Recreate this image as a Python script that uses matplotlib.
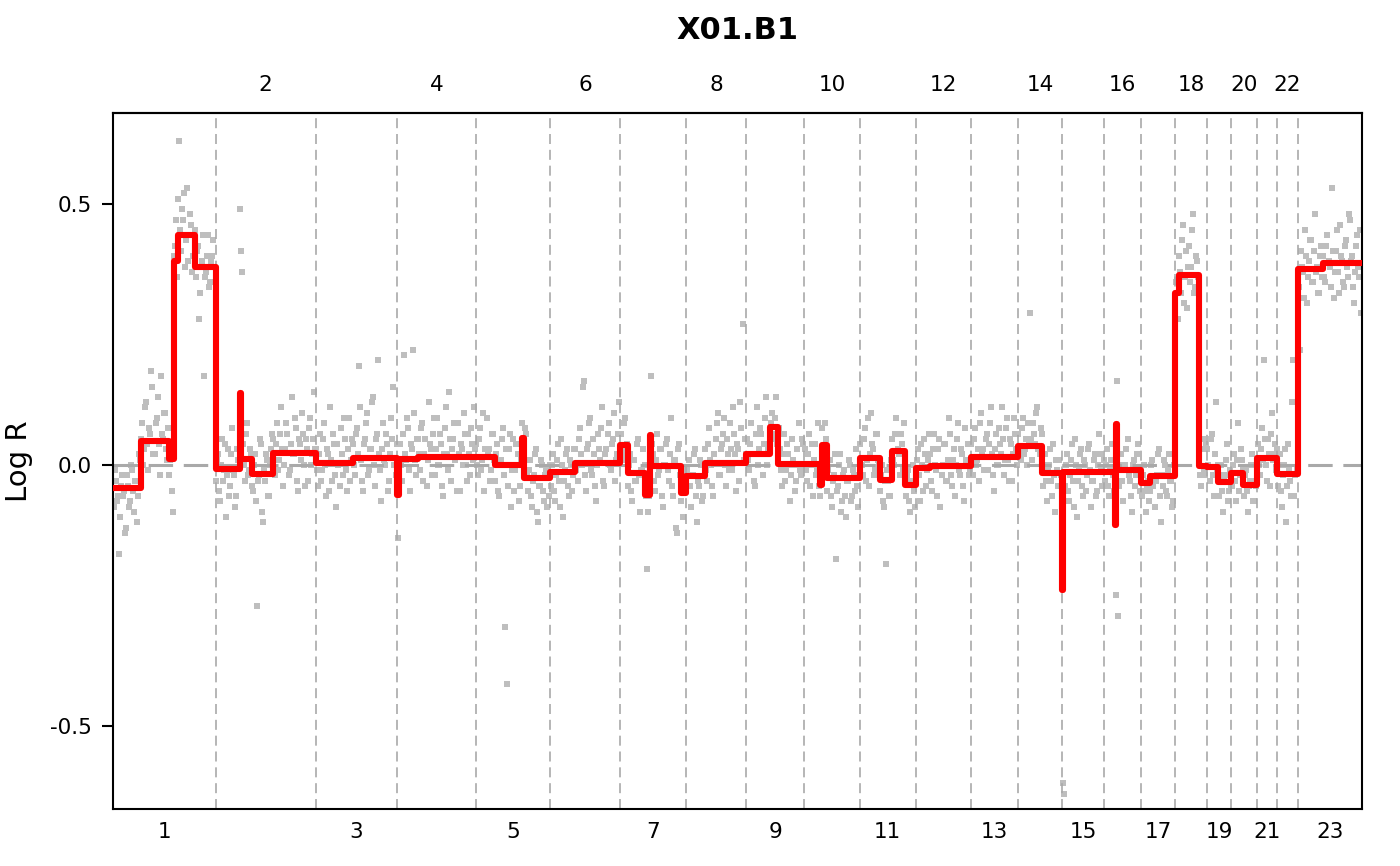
import numpy as np
import matplotlib
matplotlib.use("Agg")
import matplotlib.pyplot as plt

# chromosome sizes in Mb (hg19), 23 = X
chrom_names = [str(i) for i in range(1, 24)]
chrom_len = [249.25, 243.20, 198.02, 191.15, 180.92, 171.12, 159.14, 146.36,
             141.21, 135.53, 135.01, 133.85, 115.17, 107.35, 102.53, 90.35,
             81.20, 78.08, 59.13, 63.03, 48.13, 51.30, 155.27]

# segmentation: chromosome, start / end (Mb within chromosome), mean log R
seg_chrom = [1, 1, 1, 1, 1, 1,
             2, 2, 2, 2, 2,
             3, 3,
             4, 4, 4,
             5, 5, 5, 5,
             6, 6,
             7, 7, 7, 7, 7, 7,
             8, 8,
             9, 9, 9,
             10, 10, 10, 10,
             11, 11, 11, 11,
             12, 12,
             13,
             14, 14,
             15, 15,
             16, 16, 16, 16,
             17, 17,
             18, 18, 18,
             19, 19,
             20, 20,
             21,
             22,
             23, 23]
seg_start = [0, 68, 136, 148, 158, 199,
             0, 59.5, 63, 88.6, 139.7,
             0, 91,
             0, 6, 51,
             0, 47, 113, 118,
             0, 60.6,
             0, 18, 59.6, 71.8, 75, 146,
             0, 46.3,
             0, 58, 77.4,
             0, 38, 43, 55,
             0, 48.6, 77.8, 109.4,
             0, 35.2,
             0,
             0, 58.4,
             0, 2,
             0, 27, 29, 31,
             0, 20.7,
             0, 10, 58.6,
             0, 26.8,
             0, 28.4,
             0,
             0,
             0, 60.5]
seg_end = [68, 136, 148, 158, 199, 249.25,
           59.5, 63, 88.6, 139.7, 243.20,
           91, 198.02,
           6, 51, 191.15,
           47, 113, 118, 180.92,
           60.6, 171.12,
           18, 59.6, 71.8, 75, 146, 159.14,
           46.3, 146.36,
           58, 77.4, 141.21,
           38, 43, 55, 135.53,
           48.6, 77.8, 109.4, 135.01,
           35.2, 133.85,
           115.17,
           58.4, 107.35,
           2, 102.53,
           27, 29, 31, 90.35,
           20.7, 81.20,
           10, 58.6, 78.08,
           26.8, 59.13,
           28.4, 63.03,
           48.13,
           51.30,
           60.5, 155.27]
seg_mean = [-0.045, 0.046, 0.012, 0.39, 0.44, 0.38,
            -0.008, 0.138, 0.011, -0.017, 0.022,
            0.003, 0.014,
            -0.057, 0.011, 0.016,
            0.016, 0.0, 0.052, -0.025,
            -0.013, 0.004,
            0.038, -0.015, -0.057, 0.057, -0.002, -0.053,
            -0.022, 0.004,
            0.021, 0.073, 0.002,
            0.001, -0.038, 0.038, -0.025,
            0.013, -0.029, 0.027, -0.038,
            -0.006, -0.002,
            0.016,
            0.036, -0.015,
            -0.24, -0.013,
            -0.013, -0.115, 0.078, -0.01,
            -0.034, -0.022,
            0.33, 0.364, -0.003,
            -0.004, -0.032,
            -0.016, -0.038,
            0.013,
            -0.017,
            0.376, 0.387]

# probe log R values along each chromosome
chr1_logr = [-0.08, -0.01, -0.03, -0.07, -0.06, -0.17, -0.10, -0.04, -0.02, -0.06,
             -0.05, -0.13, -0.12, -0.02, -0.04, -0.08, -0.07, 0.00, -0.01, -0.05,
             -0.09, -0.03, -0.03, -0.11, -0.06, 0.02, 0.01, 0.05,
             0.08, 0.00, 0.03, 0.11, 0.12, 0.04, -0.01, 0.07, 0.06, 0.18,
             0.15, 0.02, 0.02, 0.08, 0.09, 0.13, 0.04, -0.02, 0.17, 0.06,
             0.05, 0.10, 0.10, 0.03, 0.01, 0.07,
             -0.02, 0.01, 0.03, -0.05, -0.09, 0.40,
             0.42, 0.47, 0.36, 0.51,
             0.62, 0.45, 0.41, 0.49, 0.47, 0.52, 0.38, 0.43, 0.53, 0.39,
             0.44, 0.48, 0.46, 0.37, 0.40, 0.45,
             0.36, 0.41, 0.42, 0.28, 0.33, 0.38, 0.39, 0.44, 0.17, 0.36,
             0.37, 0.40, 0.44, 0.34, 0.35, 0.39, 0.40, 0.43, 0.38, 0.35]
chr2_logr = [-0.03, 0.01, 0.02, -0.05, -0.07, 0.00, 0.05, -0.03, -0.01, 0.04,
             -0.10, -0.02, 0.03, -0.06, -0.04, 0.02, 0.07, -0.01, -0.02, -0.08,
             -0.06, 0.03, 0.01, 0.49,
             0.41, 0.37,
             0.04, 0.00, -0.03, 0.06, 0.08, -0.02, -0.01, 0.03, 0.02, -0.04,
             -0.05, 0.00, 0.02, -0.07, -0.27, -0.03, -0.02, 0.05, 0.04, -0.09,
             -0.11, -0.01, -0.03, 0.02, 0.01, -0.06, -0.06, 0.00, 0.03, 0.06,
             0.05, 0.01, -0.02, 0.04, 0.08, -0.01, 0.01, 0.06, 0.11, 0.03,
             -0.04, 0.00, 0.03, 0.08, 0.06, -0.02, -0.01, 0.04, 0.13, 0.02,
             0.02, 0.09, 0.07, -0.03, -0.05, 0.05, 0.04, 0.01, 0.10, 0.06,
             0.00, -0.04, 0.05, 0.03, -0.03, 0.07, 0.09, 0.00, 0.02, 0.05,
             0.14, 0.03]
chr3_logr = [0.03, -0.01, -0.04, 0.02, 0.06, -0.03, -0.01, 0.05, 0.08, 0.00,
             -0.06, 0.03, 0.02, -0.05, 0.11, 0.01, -0.03, 0.06, 0.04, -0.02,
             -0.08, 0.04, 0.00, -0.04, 0.07, 0.02, -0.02, 0.09, 0.05, -0.01,
             -0.05, 0.03, 0.09, -0.03, 0.01, 0.05,
             0.04, 0.00, -0.02, 0.06, 0.07, 0.02, 0.19, 0.11, 0.01, -0.03,
             -0.05, 0.04, 0.05, 0.08, 0.10, -0.02, -0.01, 0.03, 0.03, 0.12,
             0.13, 0.00, -0.04, 0.05, 0.06, 0.20, 0.02, -0.01, -0.07, 0.03,
             0.08, 0.01, 0.00, 0.06, 0.04, -0.05, -0.03, 0.02, 0.09, 0.05,
             0.15, 0.00, -0.02, 0.04]
chr4_logr = [-0.14, -0.04,
             0.04, 0.00, -0.03, 0.06, 0.21, 0.02, 0.01, 0.09, 0.07, -0.01,
             -0.05, 0.04, 0.03, 0.22, 0.10, 0.01, -0.02, 0.05,
             0.05, 0.02, -0.01, 0.07, 0.08, -0.03, 0.02, 0.05, -0.04, 0.01,
             0.12, 0.04, 0.03, -0.02, 0.06, 0.09, -0.02, 0.03, 0.09, 0.00,
             0.00, 0.06, 0.04, -0.04, -0.06, 0.02, 0.07, 0.11, 0.02, -0.01,
             0.14, 0.05, -0.03, 0.03, 0.05, 0.08, 0.01, -0.05, 0.08, 0.02,
             -0.05, 0.04, 0.03, 0.00, 0.10, 0.06, 0.00, -0.03, 0.06, 0.02,
             -0.02, 0.07, 0.04, 0.01, 0.11, 0.03]
chr5_logr = [0.04, 0.00, -0.02, 0.05, 0.07, -0.01, 0.01, 0.10, -0.05, 0.03,
             0.09, 0.02, 0.03, -0.03, -0.01, 0.06, 0.06, 0.01,
             -0.03, 0.02, 0.04, -0.05, -0.06, 0.00, 0.01, 0.05, 0.07, -0.02,
             -0.31, 0.03, -0.42, -0.04, 0.03, 0.06, -0.08, -0.01, 0.05, -0.05,
             -0.01, 0.04, 0.02, -0.07, -0.04, 0.01,
             0.08, 0.02, 0.03, 0.07, 0.06, -0.02,
             -0.05, -0.01, 0.01, -0.06, -0.08, -0.03, -0.02, 0.02, 0.03, -0.09,
             -0.11, -0.04, -0.04, 0.01, 0.00, -0.05, -0.07, -0.02, -0.01, -0.08,
             -0.06, 0.00]
chr6_logr = [-0.04, 0.00, 0.02, -0.05, -0.07, -0.02, 0.01, 0.04, -0.03, -0.08,
             0.05, 0.00, -0.10, -0.03, -0.01, 0.02, 0.03, -0.04, -0.06, 0.01,
             0.00, -0.05, -0.02, 0.03,
             0.03, -0.01, -0.03, 0.05, 0.07, 0.02, 0.00, 0.15, 0.16, -0.02,
             -0.05, 0.03, 0.04, 0.08, 0.09, -0.01, -0.02, 0.05, 0.02, -0.04,
             -0.07, 0.00, 0.06, 0.03, 0.01, 0.07, 0.11, -0.03, -0.04, 0.02,
             0.03, 0.06, 0.08, 0.00, -0.01, 0.04, 0.05, 0.10, -0.03, 0.01,
             0.02, 0.06, 0.12, 0.03]
chr7_logr = [0.06, 0.02, 0.01, 0.08, 0.09, 0.03, 0.04,
             -0.04, 0.00, 0.02, -0.05, -0.07, 0.01, 0.01, -0.03, -0.03, 0.04,
             0.05, -0.02, -0.09, -0.01, -0.01, 0.03, 0.00,
             -0.06, -0.20, -0.09, -0.06, -0.03,
             0.17,
             0.04, 0.02, -0.03, -0.05, 0.01, 0.06, -0.02, -0.01, 0.03, 0.03,
             -0.06, -0.08, 0.00, 0.00, 0.04, 0.05, -0.01, -0.03, 0.02, 0.09,
             -0.04, -0.06, 0.01, 0.01, -0.12, -0.13, 0.03, 0.04, -0.02,
             -0.07, -0.03, -0.10, -0.05, -0.02]
chr8_logr = [-0.05, -0.01, 0.01, -0.04, -0.08, -0.02, -0.02, 0.02, 0.03, -0.06,
             -0.11, -0.03, -0.04, 0.01, 0.00, -0.07, -0.06, 0.00,
             0.03, -0.01, -0.03, 0.04, 0.07, 0.01, 0.00, -0.04, -0.06, 0.02,
             0.05, 0.08, 0.10, -0.02, -0.02, 0.03, 0.04, 0.06, 0.09, 0.00,
             -0.04, 0.05, 0.02, -0.01, 0.08, 0.03, -0.01, 0.11, 0.06, 0.02,
             -0.05, 0.04, 0.03, -0.03, 0.12, 0.07, 0.27, 0.01, 0.05, 0.02]
chr9_logr = [0.05, 0.01, -0.01, 0.04, 0.08, 0.02, 0.02, -0.03, -0.04, 0.06,
             0.11, 0.00, 0.03, 0.07, 0.06, 0.02, -0.02, 0.04, 0.09, 0.13,
             0.00, 0.03, 0.04, 0.08,
             0.10, 0.06, 0.05, 0.09, 0.13, 0.04, 0.03, 0.07,
             0.03, -0.01, -0.04, 0.02, 0.06, -0.03, -0.01, 0.04, 0.02, 0.00,
             -0.07, -0.02, 0.05, 0.01, 0.00, -0.05, -0.03, 0.03, 0.08, -0.01,
             -0.02, 0.05, 0.04, 0.00]
chr10_logr = [0.03, -0.01, -0.03, 0.02, 0.06, -0.04, 0.00, 0.04, -0.06, 0.01,
              0.04, -0.02, -0.01, 0.08, -0.04,
              -0.06, -0.02,
              0.07, 0.03, 0.02, 0.08, 0.05,
              -0.05, -0.01, 0.01, -0.06, -0.08, -0.03, -0.02, 0.02, -0.18, -0.05,
              -0.04, 0.00, 0.02, -0.09, -0.07, -0.02, -0.01, -0.06, -0.10, -0.03,
              -0.03, 0.01, 0.00, -0.07, -0.06, -0.01, -0.02, -0.05, 0.03, -0.04,
              -0.08, -0.02]
chr11_logr = [0.04, 0.00, -0.02, 0.05, 0.07, -0.03, 0.01, 0.09, -0.04, 0.02,
              0.10, 0.04, 0.03, -0.02, -0.01, 0.06, 0.06, 0.01, 0.00,
              -0.05, -0.02, 0.00, -0.07, -0.08, -0.03, -0.19, -0.01, -0.03, -0.06,
              -0.06, 0.01,
              0.05, 0.01, 0.00, 0.06, 0.09, 0.03, 0.02, -0.02, 0.06, 0.04,
              -0.01, 0.08, 0.02,
              -0.06, -0.02, -0.01, -0.07, -0.09, -0.03, -0.03, 0.00, -0.05, -0.08]
chr12_logr = [-0.03, 0.01, 0.03, -0.02, -0.07, 0.04, 0.00, -0.05, 0.05, 0.02,
              -0.04, -0.01, 0.01, 0.06, 0.02, -0.03, -0.05, 0.03, 0.06, 0.00,
              -0.01, -0.06, 0.03, 0.05, -0.08, -0.02, 0.00, 0.04, 0.04, -0.03,
              -0.03, 0.01, 0.09, 0.06, -0.02, -0.04, 0.01, 0.03, -0.06, 0.00,
              0.05, 0.08, -0.01, -0.02, 0.03, 0.02, -0.04, -0.07, 0.07, 0.01,
              0.00, 0.04, -0.02, -0.01]
chr13_logr = [0.04, 0.01, -0.02, 0.05, 0.07, 0.00, 0.01, 0.03, -0.03, 0.08,
              0.10, 0.02, 0.03, -0.01, 0.05, 0.06, -0.01, 0.04, 0.08, 0.11,
              0.02, -0.02, -0.05, 0.03, 0.06, 0.00, 0.00, 0.07, 0.04, 0.02,
              0.11, 0.05, -0.02, 0.01, 0.07, 0.09, 0.01, -0.03, 0.05, 0.04,
              -0.03, 0.02, 0.09, 0.06, 0.03, 0.00]
chr14_logr = [0.06, 0.03, 0.01, 0.07, 0.09, 0.02, 0.03, 0.05, 0.00, 0.08,
              0.04, 0.29, 0.05, 0.01, 0.08, 0.06, 0.04, 0.10, 0.11, 0.03,
              0.02, 0.07, 0.06,
              -0.04, 0.00, 0.02, -0.03, -0.07, -0.01, 0.00, 0.03, -0.03, -0.06,
              0.04, -0.02, -0.09, 0.01, -0.01, -0.04, 0.01, -0.02, -0.05]
chr15_logr = [-0.61, -0.63,
              -0.04, 0.00, 0.02, -0.05, -0.07, -0.02, 0.01, 0.04, -0.03, -0.08,
              0.05, 0.00, -0.10, -0.03, -0.01, 0.02, 0.03, -0.04, -0.06, 0.01,
              0.00, -0.05, -0.02, 0.03, 0.04, -0.01, -0.08, -0.03, -0.03, 0.01,
              0.02, -0.06, -0.05, 0.00, 0.06, 0.02, -0.01, -0.04, -0.04, 0.01]
chr16_logr = [-0.03, 0.00, 0.03, -0.04, -0.06, -0.01, 0.01, 0.04, -0.02, -0.05,
              -0.07,
              -0.25, 0.16, -0.29,
              -0.04, 0.00, 0.02, -0.03, -0.07, -0.01, 0.00, 0.03, 0.05, -0.02,
              -0.03, -0.06, -0.09, 0.00, 0.01, -0.04, -0.02, 0.02, 0.04, -0.01,
              -0.05, -0.03]
chr17_logr = [-0.06, -0.02, 0.00, -0.05, -0.09, -0.04, -0.03, -0.07,
              -0.05, 0.00, 0.01, -0.04, -0.08, -0.03, -0.02, 0.02, 0.03, -0.06,
              -0.11, -0.02, -0.04, 0.01, 0.00, -0.05, -0.06, -0.01, 0.02, -0.03,
              -0.03, -0.08, -0.07, 0.00]
chr18_logr = [0.30, 0.35, 0.36, 0.28,
              0.40, 0.37, 0.33, 0.43, 0.46, 0.31, 0.36, 0.41, 0.30, 0.38,
              0.42, 0.35, 0.38, 0.45, 0.48, 0.33, 0.34, 0.40, 0.39, 0.36,
              0.18, -0.02, -0.04, 0.03, 0.05, -0.01, -0.02, 0.04]
chr19_logr = [0.03, 0.00, -0.03, 0.05, 0.06, -0.02, -0.06, 0.02, 0.12, -0.01,
              0.00,
              -0.06, -0.02, 0.00, -0.05, -0.09, -0.03, -0.02, 0.01, 0.04, -0.07,
              -0.05, -0.01, -0.04]
chr20_logr = [-0.04, 0.00, 0.02, -0.03, -0.07, 0.01, 0.08, -0.05, -0.02, 0.03,
              0.01, -0.01,
              -0.06, -0.02, -0.01, -0.05, -0.09, -0.04, -0.03, 0.00, 0.02, -0.07,
              -0.07, -0.03, -0.04, -0.01]
chr21_logr = [0.04, 0.00, -0.02, 0.03, 0.07, 0.01, 0.20, 0.05, 0.00, -0.03,
              0.05, 0.02, -0.04, 0.06, 0.10, 0.01, 0.02, 0.04, -0.01, 0.03]
chr22_logr = [-0.04, 0.00, 0.02, -0.05, -0.08, -0.02, 0.00, 0.03, -0.11, -0.04,
              0.04, -0.01, -0.03, -0.06, 0.12, 0.20, -0.06, -0.02, -0.01, 0.03]
chrX_logr = [0.34, 0.22, 0.41, 0.38, 0.37, 0.32, 0.45, 0.40, 0.31, 0.36,
             0.39, 0.43, 0.43, 0.35, 0.35, 0.41, 0.48, 0.37, 0.38, 0.33,
             0.33, 0.40, 0.42, 0.36,
             0.40, 0.36, 0.35, 0.42, 0.44, 0.39, 0.38, 0.34, 0.53, 0.41,
             0.32, 0.37, 0.41, 0.45, 0.37, 0.33, 0.46, 0.40, 0.39, 0.35,
             0.34, 0.42, 0.43, 0.38, 0.36, 0.48, 0.47, 0.39, 0.40, 0.34,
             0.31, 0.37, 0.42, 0.44, 0.38, 0.36, 0.45, 0.29]

logr_by_chrom = [chr1_logr, chr2_logr, chr3_logr, chr4_logr, chr5_logr,
                 chr6_logr, chr7_logr, chr8_logr, chr9_logr, chr10_logr,
                 chr11_logr, chr12_logr, chr13_logr, chr14_logr, chr15_logr,
                 chr16_logr, chr17_logr, chr18_logr, chr19_logr, chr20_logr,
                 chr21_logr, chr22_logr, chrX_logr]

offsets = np.concatenate([[0], np.cumsum(chrom_len)[:-1]])
total = sum(chrom_len)
mids = offsets + np.array(chrom_len) / 2

fig = plt.figure(figsize=(14, 8.66), dpi=100)
ax = fig.add_axes([113 / 1400, 1 - 809 / 866, 1249 / 1400, 696 / 866])

for k, vals in enumerate(logr_by_chrom):
    n = len(vals)
    pos = offsets[k] + (np.arange(n) + 0.5) / n * chrom_len[k]
    ax.scatter(pos, vals, s=16, marker='s', color='#bebebe', linewidths=0, zorder=1)

for b in offsets[1:]:
    ax.axvline(b, color='#a9a9a9', lw=1.2, ls=(0, (6, 3.5)), zorder=2)
ax.axhline(0, color='#a9a9a9', lw=2.2, ls=(0, (8, 3.5)), zorder=2)

seg_x, seg_y = [], []
for c, s, e, m in zip(seg_chrom, seg_start, seg_end, seg_mean):
    seg_x += [offsets[c - 1] + s, offsets[c - 1] + e]
    seg_y += [m, m]
ax.plot(seg_x, seg_y, color='red', lw=4.4, solid_joinstyle='round',
        solid_capstyle='round', zorder=3)

ax.set_xlim(0, total)
ax.set_ylim(-0.659, 0.674)

ax.set_xticks(mids[0::2], chrom_names[0::2])
ax.tick_params(axis='x', length=0, pad=9, labelsize=15.5)
top = ax.secondary_xaxis('top')
top.set_xticks(mids[1::2], chrom_names[1::2])
top.tick_params(axis='x', length=0, pad=13, labelsize=15.5)
top.spines['top'].set_linewidth(1.5)

ax.set_yticks([-0.5, 0, 0.5], ['-0.5', '0.0', '0.5'])
ax.tick_params(axis='y', length=8, width=1.5, pad=7, labelsize=15.5)
for sp in ax.spines.values():
    sp.set_linewidth(1.5)

ax.set_ylabel('Log R', fontsize=21)
ax.yaxis.set_label_coords(-0.064, 0.5)
ax.set_title('X01.B1', fontsize=22, fontweight='bold', y=1.106, va='center')

fig.savefig('out.png', dpi=100)
